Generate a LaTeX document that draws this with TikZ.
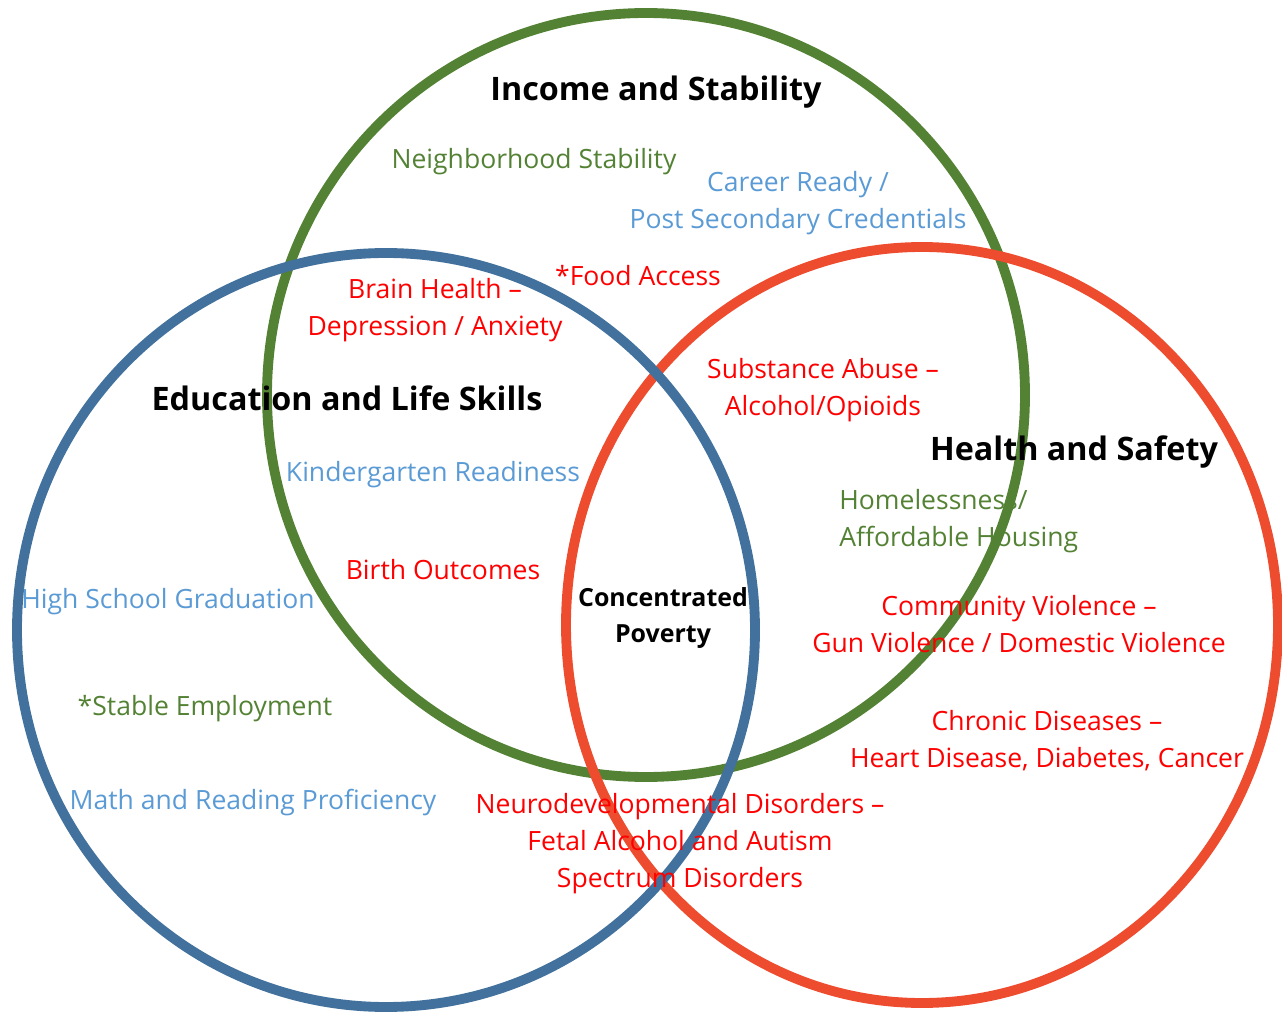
\documentclass[tikz,border=0pt]{standalone}
\usepackage{fontspec}
\setmainfont{Open Sans}
\usepackage{tikz}
\usetikzlibrary{positioning}

\definecolor{ringgreen}{RGB}{84,130,53}
\definecolor{ringblue}{RGB}{65,113,156}
\definecolor{ringred}{RGB}{238,76,46}
\definecolor{txtgreen}{RGB}{84,130,53}
\definecolor{txtblue}{RGB}{91,155,213}
\definecolor{txtred}{RGB}{255,0,0}

\begin{document}
\begin{tikzpicture}[x=0.02cm,y=-0.02cm,
    ring/.style={line width=5.6pt},
    title/.style={font=\fontsize{18.4}{22}\selectfont\bfseries,text=black,inner sep=0pt},
    core/.style={font=\fontsize{14.2}{21}\selectfont\bfseries,text=black,align=center,inner sep=0pt},
    item/.style={font=\fontsize{15.1}{21}\selectfont,align=center,inner sep=0pt}]
  \useasboundingbox (0,0) rectangle (1282,1013);

  % Income circle
  \draw[ring,ringgreen] (646,395) ellipse [x radius=379, y radius=382];
  % Health circle
  \draw[ring,ringred] (922,625) ellipse [x radius=356, y radius=378];
  % Education circle
  \draw[ring,ringblue] (386,630) ellipse [x radius=369, y radius=377];

  % Titles
  \node[title] (income) at (656,92) {Income and Stability};
  \node[title] (educ) at (347,398) {Education and Life Skills};
  \node[title] (health) at (1074,452) {Health and Safety};
  \node[core] (poverty) at (663,618) {Concentrated\\Poverty};

  % Income and Stability items
  \node[item,text=txtgreen] (neigh) at (534,162) {Neighborhood Stability};
  \node[item,text=txtblue] (career) at (798,203) {Career Ready /\\Post Secondary Credentials};
  \node[item,text=txtred] (food) at (638,276) {*Food Access};
  \node[item,text=txtred] (brain) at (435,310) {Brain Health --\\Depression / Anxiety};
  \node[item,text=txtred] (subst) at (823,390) {Substance Abuse --\\Alcohol/Opioids};

  % Education and Life Skills items
  \node[item,text=txtblue] (kinder) at (433,475) {Kindergarten Readiness};
  \node[item,text=txtred] (birth) at (443,570) {Birth Outcomes};
  \node[item,text=txtblue] (school) at (168,602) {High School Graduation};
  \node[item,text=txtgreen] (employ) at (205,709) {*Stable Employment};
  \node[item,text=txtblue] (math) at (253,803) {Math and Reading Proficiency};
  \node[item,text=txtred] (neuro) at (680,844) {Neurodevelopmental Disorders --\\Fetal Alcohol and Autism\\Spectrum Disorders};

  % Health and Safety items
  \node[item,text=txtgreen,align=left,anchor=west] (homeless) at (839,521) {Homelessness/\\Affordable Housing};
  \node[item,text=txtred] (violence) at (1019,624) {Community Violence --\\Gun Violence / Domestic Violence};
  \node[item,text=txtred] (chronic) at (1047,741) {Chronic Diseases --\\Heart Disease, Diabetes, Cancer};
\end{tikzpicture}
\end{document}
